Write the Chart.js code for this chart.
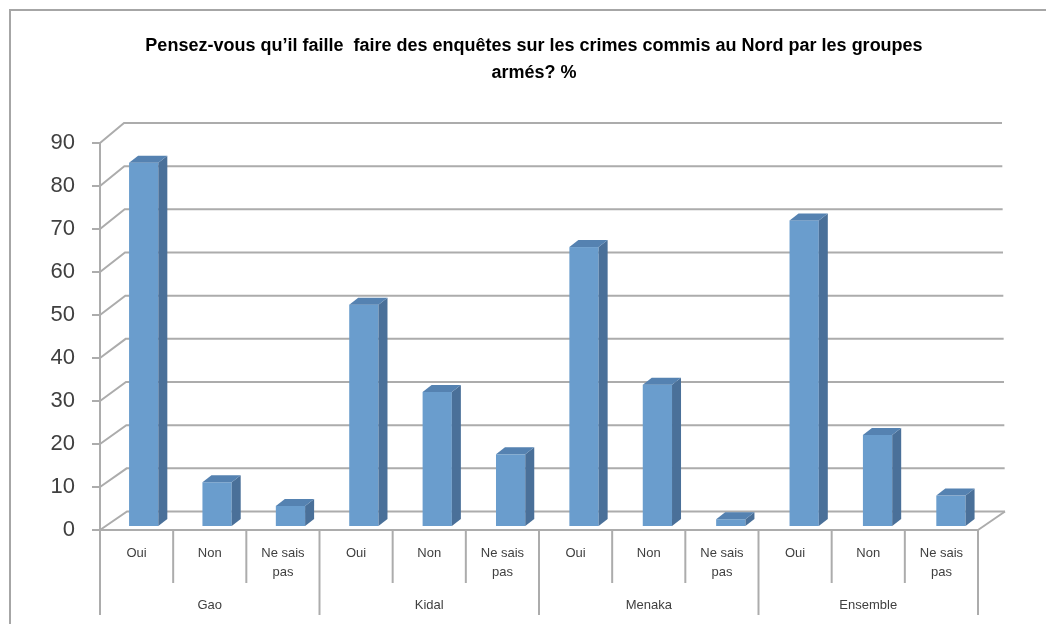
<!DOCTYPE html>
<html>
<head>
<meta charset="utf-8">
<script src="https://cdn.jsdelivr.net/npm/chart.js@4.4.1/dist/chart.umd.min.js"></script>
<style>
  html, body { margin: 0; padding: 0; background: #fff; }
</style>
</head>
<body>
<canvas id="chart" width="1046" height="624"></canvas>
<script>
// data (percent)
const groups = ['Gao', 'Kidal', 'Menaka', 'Ensemble'];
const answers = ['Oui', 'Non', ['Ne sais', 'pas']];
const gaoValues = [84.7, 10.4, 4.9];
const kidalValues = [51.7, 31.4, 16.9];
const menakaValues = [65.1, 33.1, 1.8];
const ensembleValues = [71.3, 21.4, 7.3];
const yTicks = [0, 10, 20, 30, 40, 50, 60, 70, 80, 90];

const titleLines = ['Pensez-vous qu\u2019il faille  faire des enqu\u00eates sur les crimes commis au Nord par les groupes', 'arm\u00e9s? %'];

// one label per bar, groups repeated
const labels = [];
groups.forEach(function(g) { answers.forEach(function(a) { labels.push(a); }); });
const values = [].concat(gaoValues, kidalValues, menakaValues, ensembleValues);

const FONT = "'Liberation Sans', Arial, sans-serif";
const GRID = '#acacac';
const TEXT = '#404040';

// 3d look: how far the back wall sits from the front plane
function depthX(v) { return 27 - 3 * v / 90; }
function depthY(v) { return -18.5 - 1.5 * v / 90; }

const wallsPlugin = {
  id: 'walls',
  beforeDatasetsDraw(chart) {
    const ctx = chart.ctx;
    const area = chart.chartArea;
    const xs = chart.scales.x;
    const ys = chart.scales.y;
    ctx.save();

    // chart frame (cut by the picture on the right and bottom)
    ctx.strokeStyle = '#a6a6a6';
    ctx.lineWidth = 2;
    ctx.strokeRect(10, 10, 1200, 800);

    // title
    ctx.fillStyle = '#000';
    ctx.font = 'bold 18px ' + FONT;
    ctx.textAlign = 'center';
    ctx.textBaseline = 'middle';
    ctx.fillText(titleLines[0], 534, 46);
    ctx.fillText(titleLines[1], 534, 73);

    // back wall gridlines + side wall diagonals
    ctx.strokeStyle = GRID;
    ctx.lineWidth = 2;
    yTicks.forEach(function(v) {
      const py = ys.getPixelForValue(v);
      const bx = depthX(v), by = depthY(v);
      ctx.beginPath();
      ctx.moveTo(area.left, py);
      ctx.lineTo(area.left + bx, py + by);
      ctx.lineTo(area.right + bx, py + by);
      ctx.stroke();
    });
    // floor right edge
    ctx.beginPath();
    ctx.moveTo(area.right, area.bottom);
    ctx.lineTo(area.right + depthX(0), area.bottom + depthY(0));
    ctx.stroke();

    // category separators under the axis
    const n = labels.length;
    for (let k = 0; k <= n; k++) {
      let px;
      if (k === 0) px = area.left;
      else if (k === n) px = area.right;
      else px = (xs.getPixelForValue(k - 1) + xs.getPixelForValue(k)) / 2;
      const long = k % answers.length === 0;
      ctx.beginPath();
      ctx.moveTo(px, area.bottom);
      ctx.lineTo(px, long ? 615 : 583);
      ctx.stroke();
    }

    // group labels
    ctx.fillStyle = TEXT;
    ctx.font = '13px ' + FONT;
    groups.forEach(function(g, i) {
      const first = xs.getPixelForValue(i * answers.length);
      const last = xs.getPixelForValue(i * answers.length + answers.length - 1);
      ctx.fillText(g, (first + last) / 2, 605);
    });
    ctx.restore();
  },
  afterDatasetsDraw(chart) {
    const ctx = chart.ctx;
    const area = chart.chartArea;
    const meta = chart.getDatasetMeta(0);
    ctx.save();
    meta.data.forEach(function(bar) {
      const p = bar.getProps(['x', 'y', 'base', 'width'], true);
      const shift = 7 + (p.x - area.left) * 0.003;
      const l = p.x - p.width / 2 + shift;
      const r = l + p.width;
      const t = p.y - 3;
      const b = p.base - 3;
      const dx = 9, dy = -7;
      // front face
      ctx.fillStyle = '#6a9dcd';
      ctx.fillRect(l, t, r - l, b - t);
      // side face
      ctx.fillStyle = '#4a7099';
      ctx.beginPath();
      ctx.moveTo(r, t);
      ctx.lineTo(r + dx, t + dy);
      ctx.lineTo(r + dx, b + dy);
      ctx.lineTo(r, b);
      ctx.closePath();
      ctx.fill();
      // top face
      ctx.fillStyle = '#5582b1';
      ctx.beginPath();
      ctx.moveTo(l, t);
      ctx.lineTo(l + dx, t + dy);
      ctx.lineTo(r + dx, t + dy);
      ctx.lineTo(r, t);
      ctx.closePath();
      ctx.fill();
    });
    ctx.restore();
  }
};

const ctx = document.getElementById('chart');

const chart = new Chart(ctx, {
  type: 'bar',
  data: {
    labels: labels,
    datasets: [{
      data: values,
      backgroundColor: 'rgba(0,0,0,0)',
      borderWidth: 0,
      barPercentage: 0.4,
      categoryPercentage: 1
    }]
  },
  options: {
    responsive: false,
    animation: false,
    layout: { padding: { top: 143, right: 68, bottom: 0, left: 0 } },
    plugins: {
      legend: { display: false },
      title: { display: false },
      tooltip: { enabled: false }
    },
    scales: {
      x: {
        grid: { display: false, drawTicks: false },
        border: { display: true, color: GRID, width: 2 },
        ticks: {
          color: TEXT,
          font: { size: 13, family: FONT, lineHeight: 1.45 },
          padding: 14,
          maxRotation: 0,
          autoSkip: false
        },
        afterFit(scale) { scale.height = 94; }
      },
      y: {
        min: 0,
        max: 90,
        grid: { drawOnChartArea: false, drawTicks: true, tickLength: 8, color: GRID, lineWidth: 2 },
        border: { display: true, color: GRID, width: 2 },
        ticks: {
          stepSize: 10,
          color: TEXT,
          font: { size: 22, family: FONT },
          padding: 17
        },
        afterFit(scale) { scale.width = 100; }
      }
    }
  },
  plugins: [wallsPlugin]
});
</script>
</body>
</html>
